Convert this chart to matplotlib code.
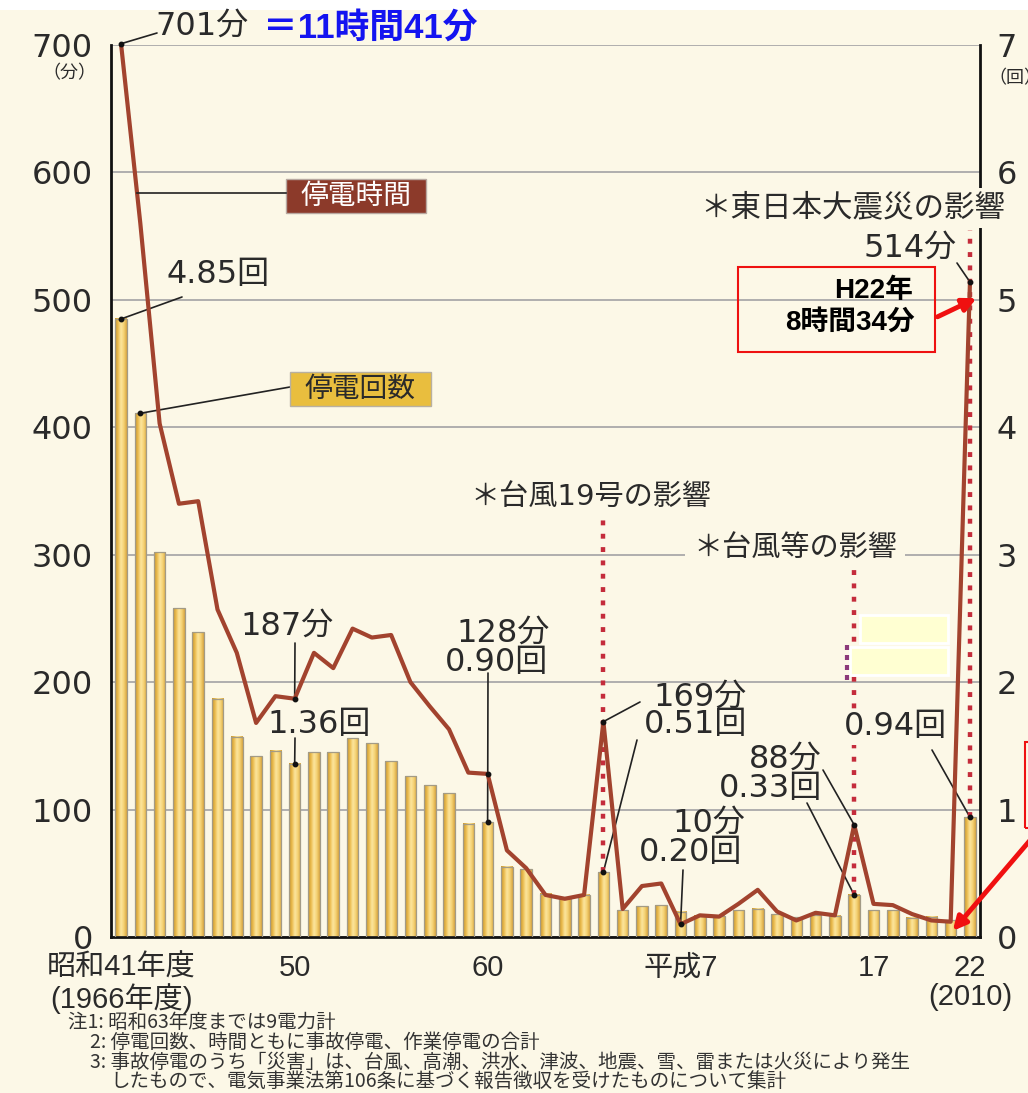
import numpy as np
import matplotlib.pyplot as plt
from matplotlib.colors import LinearSegmentedColormap
from matplotlib.patches import Rectangle, FancyArrowPatch
from matplotlib.lines import Line2D

plt.rcParams['font.family'] = ['DejaVu Sans', 'Noto Sans CJK JP']

# 年度 (昭和41年度=1966 ～ 平成22年度=2010)
years = list(range(1966, 2011))

# 1戸あたり年間停電回数 (回)
counts = [4.85, 4.11, 3.02, 2.58, 2.39, 1.87, 1.57, 1.42, 1.46, 1.36,
          1.45, 1.45, 1.56, 1.52, 1.38, 1.26, 1.19, 1.13, 0.89, 0.90,
          0.55, 0.53, 0.34, 0.31, 0.33, 0.51, 0.21, 0.24, 0.25, 0.20,
          0.165, 0.165, 0.21, 0.22, 0.18, 0.155, 0.17, 0.165, 0.33, 0.21,
          0.21, 0.15, 0.16, 0.13, 0.94]

# 1戸あたり年間停電時間 (分)
minutes = [701, 560, 403, 340, 342, 257, 223, 168, 189, 187,
           223, 211, 242, 235, 237, 200, 181, 163, 129, 128,
           68, 54, 33, 30, 33, 169, 22, 40, 42, 10,
           17, 16, 26, 37, 20, 13, 19, 17, 88, 26,
           25, 18, 13, 12, 514]

tick_years = [1966, 1975, 1985, 1995, 2005, 2010]
tick_labels = ['昭和41年度\n(1966年度)', '50', '60', '平成7', '17', '22\n(2010)']

notes = ['注1: 昭和63年度までは9電力計',
         '2: 停電回数、時間ともに事故停電、作業停電の合計',
         '3: 事故停電のうち「災害」は、台風、高潮、洪水、津波、地震、雪、雷または火災により発生',
         'したもので、電気事業法第106条に基づく報告徴収を受けたものについて集計']

W, H = 1028, 1093
BG = '#FCF8E7'
INK = '#2a2a2a'
CJK = ['DejaVu Sans', 'Noto Sans CJK JP']
ARIAL = ['Liberation Sans', 'Noto Sans CJK JP']

fig = plt.figure(figsize=(W / 100, H / 100), dpi=100, facecolor=BG)


def fpos(x, y):
    # ピクセル座標(左上原点) -> figure fraction
    return x / W, 1 - y / H


def ftext(x, y, s, **kw):
    kw.setdefault('color', INK)
    kw.setdefault('va', 'center')
    kw.setdefault('family', CJK)
    return fig.text(*fpos(x, y), s, **kw)


def fbox(x0, y0, x1, y1, **kw):
    r = Rectangle(fpos(x0, y1), (x1 - x0) / W, (y1 - y0) / H,
                  transform=fig.transFigure, **kw)
    fig.add_artist(r)


def fline(x0, y0, x1, y1, **kw):
    (a, b), (c, d) = fpos(x0, y0), fpos(x1, y1)
    fig.add_artist(Line2D([a, c], [b, d], transform=fig.transFigure, **kw))


# 上端の白い余白
fbox(0, 0, W, 10, facecolor='white', edgecolor='none', zorder=0)

axb = fig.add_axes([111 / W, 1 - 937 / H, 869 / W, 892 / H])
axb.set_facecolor(BG)
axl = axb.twinx()

# 停電回数の棒 (グラデーション)
gold = LinearSegmentedColormap.from_list(
    'gold', ['#C8962F', '#EBBB4C', '#FCE6A0', '#F5D273', '#D7A33D'])
grad = np.linspace(0, 1, 64).reshape(1, -1)
bars = axb.bar(years, counts, width=0.6, facecolor='none',
               edgecolor='#A39B86', linewidth=0.9, zorder=3)
for b in bars:
    axb.imshow(grad, cmap=gold, aspect='auto', interpolation='bicubic',
               extent=[b.get_x(), b.get_x() + b.get_width(), 0, b.get_height()],
               zorder=2)

# 停電時間の線
axl.plot(years, minutes, color='#A2432E', lw=3, zorder=4)

# 災害の影響を示す点線
for yr, top in [(1991, 3.29), (2004, 2.90), (2010, 5.55)]:
    lc = axb.vlines(yr, counts[years.index(yr)], top, colors='#C42C3B',
                    linewidth=3.2, linestyles=(0, (1.1, 1.9)), zorder=3.5)
    lc.set_capstyle('butt')

axb.set_xlim(1965.48, 2010.52)
axb.set_ylim(0, 7)
axl.set_ylim(0, 700)

axb.yaxis.tick_right()
axl.yaxis.tick_left()
axb.set_yticks(range(8))
axl.set_yticks(range(0, 701, 100))
axb.grid(axis='y', color='#A9A9A9', lw=1.3)
axb.set_axisbelow(True)
axb.tick_params(axis='y', length=0, labelsize=23, pad=12, labelcolor=INK)
axl.tick_params(axis='y', length=0, labelsize=23, pad=13, labelcolor=INK)

axb.set_xticks(tick_years, tick_labels)
axb.tick_params(axis='x', length=0, pad=12, labelcolor=INK)
for lab in axb.get_xticklabels():
    lab.set_fontfamily(ARIAL)
    lab.set_fontsize(21)
    lab.set_linespacing(1.05)

for s in axb.spines.values():
    s.set_color('#111111')
    s.set_linewidth(2)
axb.spines['top'].set_visible(False)
for s in axl.spines.values():
    s.set_visible(False)

# 軸単位
ftext(69, 73, '（分）', fontsize=13, ha='center')
ftext(988, 78, '（回）', fontsize=13, ha='left')


def lead(ax, xy, tx, ty, dot=True):
    ax.annotate('', xy=xy, xytext=(tx, H - ty), textcoords='figure pixels',
                arrowprops=dict(arrowstyle='-', color='#222222', lw=1.2,
                                shrinkA=0, shrinkB=0),
                annotation_clip=False)
    if dot:
        ax.plot(*xy, 'o', color='#111111', ms=3.2, zorder=6, clip_on=False)


# 注記と引出線
ftext(155, 26, '701分', fontsize=23)
ftext(263, 28, '＝11時間41分', fontsize=25, color='#1414F0',
      fontweight='bold', family=ARIAL)
lead(axl, (1966, 701), 157, 33)

fbox(286, 179, 426, 213, facecolor='#8C3A2A', edgecolor='#B8A8A0', lw=1)
ftext(356, 196, '停電時間', fontsize=20, color='white', ha='center')
fline(137, 193, 286, 193, color='#222222', lw=1.2)

ftext(167, 274, '4.85回', fontsize=23)
lead(axb, (1966, 4.85), 182, 297)

fbox(290, 372, 431, 406, facecolor='#E9BE3E', edgecolor='#B8B0A0', lw=1)
ftext(360, 389, '停電回数', fontsize=20, ha='center')
lead(axb, (1967, 4.11), 290, 387)

ftext(240, 626, '187分', fontsize=23)
lead(axl, (1975, 187), 295, 643)
ftext(267, 724, '1.36回', fontsize=23)
lead(axb, (1975, 1.36), 295, 738)

ftext(550, 633, '128分', fontsize=23, ha='right')
ftext(548, 662, '0.90回', fontsize=23, ha='right')
lead(axb, (1985, 0.90), 488, 673)
axl.plot(1985, 128, 'o', color='#111111', ms=3.2, zorder=6)

ftext(470, 497, '＊台風19号の影響', fontsize=21)
ftext(747, 697, '169分', fontsize=23, ha='right')
ftext(747, 725, '0.51回', fontsize=23, ha='right')
lead(axl, (1991, 169), 640, 702)
lead(axb, (1991, 0.51), 637, 740)

ftext(745, 823, '10分', fontsize=23, ha='right')
ftext(742, 852, '0.20回', fontsize=23, ha='right')
lead(axl, (1995, 10), 683, 870)

ftext(795, 548, '＊台風等の影響', fontsize=21, ha='center',
      bbox=dict(facecolor=BG, edgecolor='none', pad=6))
ftext(947, 727, '0.94回', fontsize=23, ha='right',
      bbox=dict(facecolor=BG, edgecolor='none', pad=2))
lead(axb, (2010, 0.94), 932, 750)
ftext(822, 759, '88分', fontsize=23, ha='right')
ftext(822, 788, '0.33回', fontsize=23, ha='right')
lead(axl, (2004, 88), 823, 770)
lead(axb, (2004, 0.33), 807, 803)

# 塗りつぶされた跡
fbox(860, 615, 948, 643, facecolor='#FFFFD2', edgecolor='white', lw=2)
fbox(850, 647, 948, 675, facecolor='#FFFFD2', edgecolor='white', lw=2)
fline(847, 645, 847, 680, color='#8B3A7A', lw=3, linestyle=(0, (1.2, 1.2)))

ftext(700, 208, '＊東日本大震災の影響', fontsize=22,
      bbox=dict(facecolor=BG, edgecolor='none', pad=4))
ftext(957, 248, '514分', fontsize=23, ha='right')
lead(axl, (2010, 514), 957, 263)

fbox(738, 267, 935, 352, facecolor='none', edgecolor='#EE1111', lw=1.5)
ftext(913, 291, 'H22年', fontsize=20, ha='right', fontweight='bold',
      color='black', family=ARIAL)
ftext(915, 323, '8時間34分', fontsize=20, ha='right', fontweight='bold',
      color='black', family=ARIAL)
fig.add_artist(FancyArrowPatch(fpos(935, 318), fpos(979, 297),
                               transform=fig.transFigure, arrowstyle='-|>',
                               mutation_scale=20, color='#F01010', lw=3.5))

fbox(1025, 742, 1080, 828, facecolor='none', edgecolor='#EE1111', lw=1.5)
fig.add_artist(FancyArrowPatch(fpos(1032, 838), fpos(951, 933),
                               transform=fig.transFigure, arrowstyle='-|>',
                               mutation_scale=20, color='#F01010', lw=3.5))

# 注
for (x, y), s in zip([(68, 1022), (90, 1042), (90, 1062), (110, 1081)], notes):
    ftext(x, y, s, fontsize=14, family=['Noto Sans CJK JP'], color='#333333')

fig.savefig('out.png', dpi=100, facecolor=BG)
